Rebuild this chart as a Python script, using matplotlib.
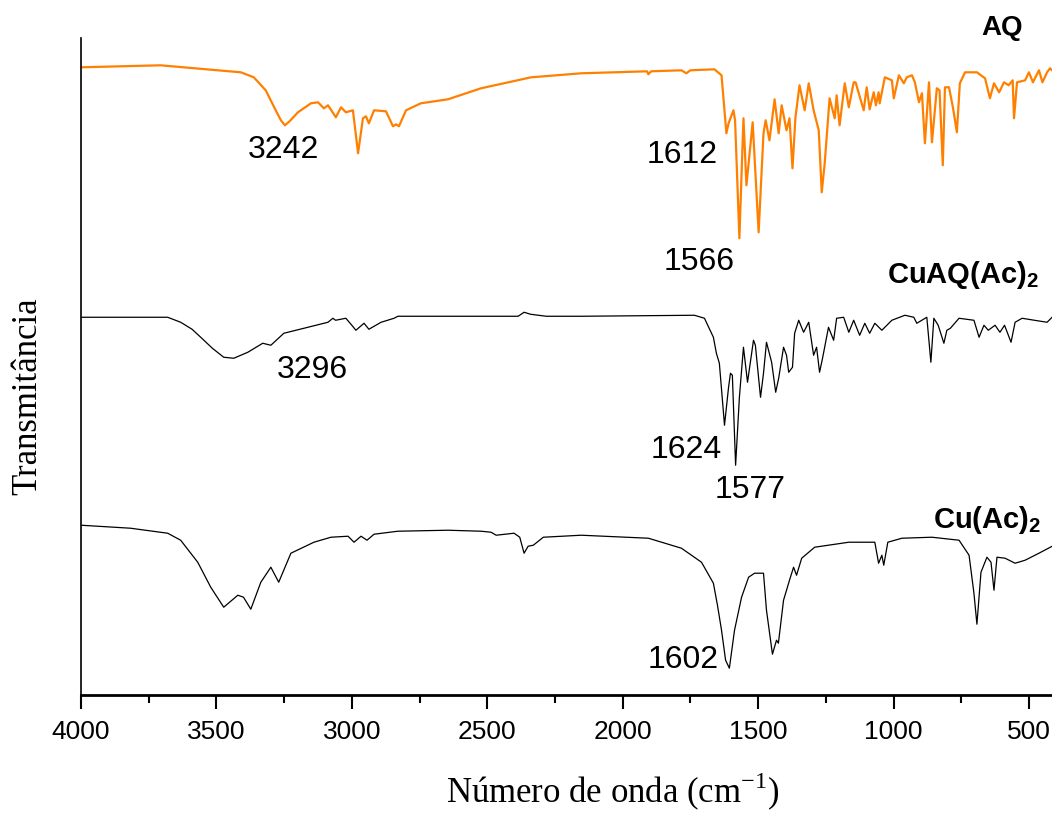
import matplotlib
matplotlib.use("Agg")
import matplotlib.pyplot as plt
from matplotlib.ticker import MultipleLocator

# AQ spectrum (orange), wavenumber in cm-1 and offset transmittance (a.u.)
aq_wn = [4000, 3706, 3410, 3362, 3318, 3281, 3262, 3247, 3230, 3199, 3151, 3125, 3103,
         3088, 3059, 3040, 3022, 2996, 2977, 2959, 2948, 2937, 2918, 2874, 2848, 2837,
         2826, 2800, 2745, 2645, 2523, 2338, 2153, 1910, 1905, 1895, 1783, 1765, 1750,
         1661, 1635, 1617, 1609, 1591, 1585, 1569, 1554, 1543, 1520, 1498, 1480, 1472,
         1458, 1439, 1424, 1413, 1395, 1384, 1373, 1362, 1347, 1328, 1313, 1295, 1276,
         1265, 1254, 1236, 1217, 1210, 1199, 1180, 1165, 1147, 1140, 1110, 1099, 1088,
         1073, 1065, 1055, 1051, 1032, 1006, 999, 980, 962, 951, 932, 921, 906, 895, 884,
         869, 858, 840, 830, 818, 810, 795, 780, 766, 755, 736, 715, 692, 662, 644, 629,
         610, 592, 575, 560, 555, 544, 514, 500, 485, 463, 450, 433, 422, 407]
aq_t = [633, 635, 628, 623, 610, 590, 580, 575, 579, 588, 597, 598, 592,
        595, 583, 593, 588, 590, 547, 582, 584, 577, 590, 589, 574, 576,
        574, 590, 597, 601, 612, 623, 627, 629, 626, 629, 630, 627, 630,
        631, 625, 567, 577, 590, 580, 462, 582, 515, 578, 468, 567, 580,
        560, 601, 567, 595, 570, 582, 532, 583, 615, 590, 617, 590, 570,
        508, 537, 602, 582, 605, 575, 617, 593, 618, 618, 590, 613, 591,
        608, 595, 608, 597, 623, 620, 602, 625, 617, 623, 625, 618, 598, 607, 557,
        618, 558, 612, 610, 535, 613, 613, 592, 568, 617, 628, 628, 628, 622, 602, 617,
        608, 618, 615, 620, 582, 618, 620, 628, 618, 630, 618, 628, 632, 628]

# CuAQ(Ac)2 spectrum (black, middle)
cuaq_wn = [4000, 3680, 3632, 3590, 3558, 3515, 3473, 3436, 3384, 3329, 3299, 3251, 3162,
           3088, 3070, 3060, 3022, 3000, 2985, 2955, 2937, 2892, 2844, 2830, 2645, 2386,
           2364, 2340, 2282, 2153, 1735, 1698, 1665, 1654, 1643, 1624, 1609, 1602, 1595,
           1583, 1569, 1554, 1539, 1517, 1510, 1491, 1480, 1469, 1450, 1435, 1424, 1406,
           1395, 1387, 1373, 1365, 1350, 1332, 1313, 1295, 1284, 1273, 1262, 1240, 1221,
           1210, 1184, 1165, 1147, 1125, 1106, 1088, 1069, 1043, 1006, 958, 925, 914, 877,
           862, 851, 835, 814, 803, 790, 758, 703, 684, 666, 650, 625, 607, 590, 566, 551,
           525, 480, 433, 407]
cuaq_t = [383, 383, 378, 371, 363, 352, 343, 342, 348, 357, 355, 367, 373,
          378, 382, 380, 382, 375, 370, 377, 371, 378, 382, 384, 384, 384,
          388, 386, 384, 384, 385, 382, 363, 347, 337, 275, 313, 327, 325,
          235, 303, 353, 318, 360, 355, 303, 327, 358, 338, 308, 322, 353,
          345, 328, 333, 367, 380, 368, 378, 345, 353, 328, 342, 373, 360,
          382, 383, 368, 380, 365, 377, 367, 377, 370, 380, 385, 383, 377, 383,
          338, 382, 375, 357, 370, 372, 382, 380, 363, 375, 370, 375, 368, 375, 358, 378,
          382, 380, 378, 385]

# Cu(Ac)2 spectrum (black, bottom)
cuac_wn = [4000, 3817, 3680, 3632, 3569, 3521, 3473, 3421, 3400, 3373, 3336, 3299, 3270,
           3225, 3140, 3077, 3014, 2992, 2966, 2944, 2918, 2830, 2645, 2523, 2486, 2467,
           2401, 2380, 2364, 2349, 2330, 2293, 2153, 1905, 1783, 1709, 1665, 1650, 1635,
           1620, 1606, 1587, 1561, 1535, 1513, 1480, 1469, 1447, 1432, 1425, 1406, 1384,
           1369, 1358, 1339, 1291, 1165, 1069, 1055, 1043, 1036, 1021, 969, 858, 758, 721,
           703, 692, 677, 655, 640, 629, 618, 588, 551, 514, 463, 407]
cuac_t = [175, 172, 167, 160, 138, 113, 93, 105, 103, 91, 118, 133, 118,
          147, 158, 163, 164, 158, 164, 160, 166, 169, 170, 169, 168, 165,
          167, 163, 147, 154, 155, 163, 165, 162, 152, 138, 117, 95, 70,
          40, 32, 70, 103, 123, 127, 127, 90, 46, 60, 57, 100, 120,
          133, 125, 142, 153, 158, 158, 137, 145, 135, 158, 162, 163, 160, 145,
          107, 76, 128, 143, 138, 110, 143, 142, 137, 140, 147, 155]

# peak annotations: (text, wavenumber, y)
peak_labels = ["3242", "1612", "1566", "3296", "1624", "1577", "1602"]
peak_wn = [3254, 1779, 1716, 3147, 1765, 1530, 1776]
peak_y = [550, 545, 438, 330, 250, 210, 40]

fig = plt.figure(figsize=(10.52, 8.15), dpi=100)
ax = fig.add_axes([0.077, 0.147, 0.925, 0.806])

ax.plot(aq_wn, aq_t, color="#FF8000", lw=1.6)
ax.plot(cuaq_wn, cuaq_t, color="black", lw=0.9)
ax.plot(cuac_wn, cuac_t, color="black", lw=0.9)

ax.set_xlim(4000, 407)
ax.set_ylim(5, 662)

for txt, x, y in zip(peak_labels, peak_wn, peak_y):
    ax.text(x, y, txt, ha="center", va="center", fontsize=23,
            family="Liberation Sans")

ax.text(600, 672, "AQ", ha="center", va="center", fontsize=20,
        fontweight="bold", family="Liberation Sans", clip_on=False)
ax.text(742, 425, r"CuAQ(Ac)$_\mathregular{2}$", ha="center", va="center",
        fontsize=21, fontweight="bold", family="Liberation Sans")
ax.text(655, 180, r"Cu(Ac)$_\mathregular{2}$", ha="center", va="center",
        fontsize=21, fontweight="bold", family="Liberation Sans")

ax.spines["top"].set_visible(False)
ax.spines["right"].set_visible(False)
ax.spines["left"].set_linewidth(1.2)
ax.spines["bottom"].set_linewidth(2)

ax.xaxis.set_major_locator(MultipleLocator(500))
ax.xaxis.set_minor_locator(MultipleLocator(250))
ax.tick_params(axis="x", which="major", direction="out", length=10, width=1.5,
               labelsize=19, pad=8)
ax.tick_params(axis="x", which="minor", direction="out", length=6, width=1.5)
for lab in ax.get_xticklabels():
    lab.set_family("Liberation Sans")
ax.set_yticks([])

ax.set_xlabel(r"Número de onda (cm$^\mathregular{-1}$)", fontsize=25,
              family="Liberation Serif")
ax.xaxis.set_label_coords(0.546, -0.115)
ax.set_ylabel("Transmitância", fontsize=25, family="Liberation Serif")
ax.yaxis.set_label_coords(-0.038, 0.455)

fig.savefig("out.png", dpi=100)
